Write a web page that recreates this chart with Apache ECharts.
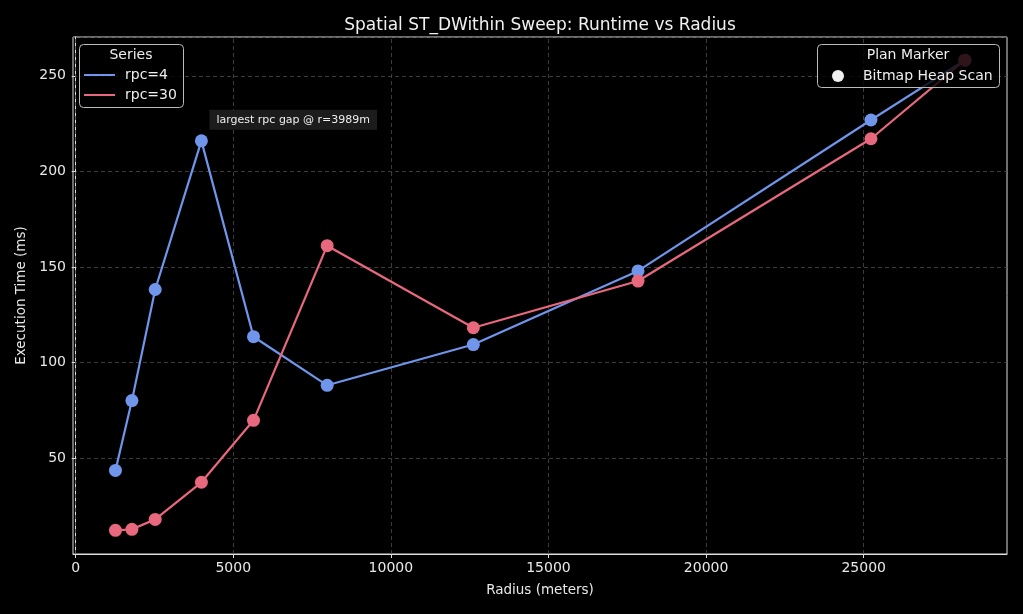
<!DOCTYPE html>
<html>
<head>
<meta charset="utf-8">
<script src="https://cdn.jsdelivr.net/npm/echarts@6/dist/echarts.min.js"></script>
<style>
html,body{margin:0;padding:0;background:#000;}
#chart{width:1023px;height:614px;}
</style>
</head>
<body>
<div id="chart"></div>
<script>
// Data
const radius = [1262, 1784, 2523, 3989, 5642, 7979, 12616, 17841, 25231, 28209];
const rpc4 = [43.7, 80.2, 138.3, 216.0, 113.6, 88.2, 109.5, 148.0, 226.9, 258.2];
const rpc30 = [12.4, 12.9, 18.1, 37.5, 69.9, 161.2, 118.3, 142.7, 217.1, 258.2];
const xTicks = [0, 5000, 10000, 15000, 20000, 25000];
const annotationText = 'largest rpc gap @ r=3989m';
const annotationIndex = 3;

const font = 'DejaVu Sans';
const blue = '#6f96ea';
const red = '#e8687e';
const gridColor = '#4a4a4a';
const pair = (xs, ys) => xs.map((x, i) => [x, ys[i]]);

const chart = echarts.init(document.getElementById('chart'));
chart.setOption({
  backgroundColor: '#000',
  animation: false,
  textStyle: { fontFamily: font },
  title: {
    text: 'Spatial ST_DWithin Sweep: Runtime vs Radius',
    left: 535, top: 12, textAlign: 'center',
    textStyle: { color: '#f0f0f0', fontSize: 17, fontWeight: 'normal', fontFamily: font }
  },
  grid: {
    left: 73, right: 16, top: 37, bottom: 60,
    show: true, borderColor: '#dddddd', borderWidth: 1, backgroundColor: 'transparent'
  },
  xAxis: {
    type: 'value', min: -85, max: 29547,
    name: 'Radius (meters)', nameLocation: 'middle', nameGap: 29,
    nameTextStyle: { color: '#e8e8e8', fontSize: 13.5, fontFamily: font },
    axisLine: { show: true, lineStyle: { color: '#dddddd', width: 1 } },
    axisTick: { show: true, customValues: xTicks, length: 4, lineStyle: { color: '#dddddd' } },
    axisLabel: { customValues: xTicks, formatter: v => String(v), color: '#e8e8e8', fontSize: 14, margin: 7, fontFamily: font },
    splitLine: { show: false }
  },
  yAxis: {
    type: 'value', min: 0, max: 270.3, interval: 50,
    name: 'Execution Time (ms)', nameLocation: 'middle', nameGap: 41,
    nameTextStyle: { color: '#e8e8e8', fontSize: 13.5, fontFamily: font },
    axisLine: { show: true, lineStyle: { color: '#dddddd', width: 1 } },
    axisTick: { show: true, length: 4, lineStyle: { color: '#dddddd' } },
    axisLabel: { color: '#e8e8e8', fontSize: 14, margin: 7, showMinLabel: false, showMaxLabel: false, fontFamily: font },
    splitLine: { show: true, lineStyle: { color: gridColor, type: [4, 3], width: 0.8 } }
  },
  legend: [
    {
      data: ['rpc=4', 'rpc=30'],
      orient: 'vertical', left: 84, top: 68, padding: 0,
      itemWidth: 31, itemHeight: 14, itemGap: 6, z: 110,
      icon: 'path://M0,0 L31,0 L31,2 L0,2 Z',
      itemStyle: { borderWidth: 0 },
      textStyle: { color: '#eeeeee', fontSize: 14, fontFamily: font, padding: [0, 0, 0, 5] },
      selectedMode: false
    },
    {
      data: [{ name: 'Bitmap Heap Scan', itemStyle: { color: '#f0f0f0', opacity: 1 } }],
      orient: 'vertical', left: 832, top: 69, padding: 0,
      itemWidth: 12, itemHeight: 12, z: 110,
      icon: 'circle',
      textStyle: { color: '#eeeeee', fontSize: 14, fontFamily: font, padding: [0, 0, 0, 14] },
      selectedMode: false
    }
  ],
  graphic: [
    { type: 'rect', z: 100, shape: { x: 79.5, y: 44.5, width: 104, height: 63, r: 4 },
      style: { fill: 'rgba(0,0,0,0.8)', stroke: '#bbbbbb', lineWidth: 1 } },
    { type: 'text', z: 110, x: 131, y: 55,
      style: { text: 'Series', fill: '#eeeeee', font: '14px "DejaVu Sans"', textAlign: 'center', textVerticalAlign: 'middle' } },
    { type: 'rect', z: 100, shape: { x: 817.5, y: 44.5, width: 182, height: 43, r: 4 },
      style: { fill: 'rgba(0,0,0,0.8)', stroke: '#bbbbbb', lineWidth: 1 } },
    { type: 'text', z: 110, x: 908, y: 55,
      style: { text: 'Plan Marker', fill: '#eeeeee', font: '14px "DejaVu Sans"', textAlign: 'center', textVerticalAlign: 'middle' } }
  ],
  series: [
    {
      name: 'rpc=4', type: 'line', data: pair(radius, rpc4),
      symbol: 'circle', symbolSize: 13,
      lineStyle: { color: blue, width: 2.2 },
      itemStyle: { color: blue },
      z: 3,
      markPoint: {
        symbol: 'circle', symbolSize: 0,
        data: [{ coord: [radius[annotationIndex], rpc4[annotationIndex]] }],
        label: {
          show: true, position: [8, -31], formatter: annotationText,
          color: '#eeeeee', fontSize: 11, fontFamily: font,
          backgroundColor: '#1c1c1c', padding: [5, 7, 4, 7]
        }
      },
      markLine: {
        silent: true, symbol: 'none', z: 1,
        label: { show: false },
        lineStyle: { color: gridColor, type: [4, 3], width: 0.8 },
        data: xTicks.map(v => ({ xAxis: v }))
      }
    },
    {
      name: 'rpc=30', type: 'line', data: pair(radius, rpc30),
      symbol: 'circle', symbolSize: 13,
      lineStyle: { color: red, width: 2.2 },
      itemStyle: { color: red },
      z: 4
    },
    {
      name: 'Bitmap Heap Scan', type: 'scatter', data: [],
      itemStyle: { color: '#f0f0f0', opacity: 1 }
    }
  ]
});
</script>
</body>
</html>
